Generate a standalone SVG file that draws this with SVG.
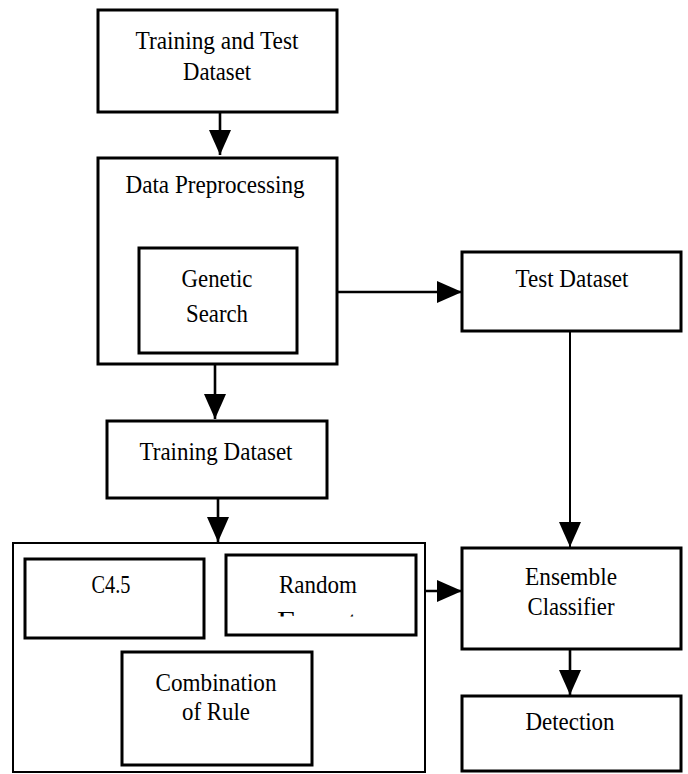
<svg xmlns="http://www.w3.org/2000/svg" width="688" height="774" viewBox="0 0 688 774">
<style>
.box{fill:none;stroke:#000;stroke-width:3}
.thin{fill:none;stroke:#000;stroke-width:2}
.lbl{font-family:"Liberation Serif","Times New Roman",serif;font-size:26px;fill:#000;text-anchor:middle}
.con{fill:none;stroke:#000;stroke-width:2.6}
</style>
<defs>
<marker id="ah" markerUnits="userSpaceOnUse" markerWidth="26" markerHeight="22" refX="25" refY="11" orient="auto">
<path d="M0,0 L25,11 L0,22 z" fill="#000"/>
</marker>
<clipPath id="forestClip"><rect x="260" y="611" width="120" height="5.5"/></clipPath>
</defs>
<rect width="688" height="774" fill="#fff"/>

<g id="connectors">
<line class="con" x1="220" y1="112" x2="220" y2="155" marker-end="url(#ah)"/>
<line class="con" x1="215" y1="364" x2="215" y2="419" marker-end="url(#ah)"/>
<line class="con" x1="218" y1="498" x2="218" y2="542" marker-end="url(#ah)"/>
<line class="con" x1="337" y1="292" x2="462" y2="292" marker-end="url(#ah)"/>
<line class="thin" x1="570" y1="331" x2="570" y2="547" marker-end="url(#ah)"/>
<line class="con" x1="425" y1="591" x2="462" y2="591" marker-end="url(#ah)"/>
<line class="con" x1="570" y1="649" x2="570" y2="695" marker-end="url(#ah)"/>
</g>

<g id="train-test">
<rect class="box" x="98" y="10" width="239" height="102"/>
<text class="lbl" x="217" y="49" textLength="163" lengthAdjust="spacingAndGlyphs">Training and Test</text>
<text class="lbl" x="217" y="80" textLength="68" lengthAdjust="spacingAndGlyphs">Dataset</text>
</g>

<g id="preprocessing">
<rect class="box" x="98" y="158" width="239" height="206"/>
<text class="lbl" x="215" y="193" textLength="179" lengthAdjust="spacingAndGlyphs">Data Preprocessing</text>
</g>

<g id="genetic">
<rect class="box" x="139" y="248" width="158" height="105"/>
<text class="lbl" x="217" y="287" textLength="71" lengthAdjust="spacingAndGlyphs">Genetic</text>
<text class="lbl" x="217" y="322" textLength="62" lengthAdjust="spacingAndGlyphs">Search</text>
</g>

<g id="test-dataset">
<rect class="box" x="462" y="252" width="219" height="79"/>
<text class="lbl" x="572" y="287" textLength="113" lengthAdjust="spacingAndGlyphs">Test Dataset</text>
</g>

<g id="training-dataset">
<rect class="box" x="107" y="421" width="220" height="77"/>
<text class="lbl" x="216" y="460" textLength="153" lengthAdjust="spacingAndGlyphs">Training Dataset</text>
</g>

<g id="classifiers">
<rect class="thin" x="13" y="543" width="412" height="229"/>
</g>

<g id="c45">
<rect class="box" x="25" y="559" width="179" height="79"/>
<text class="lbl" x="111" y="593" textLength="39" lengthAdjust="spacingAndGlyphs">C4.5</text>
</g>

<g id="random-forest">
<rect class="box" x="226" y="555" width="190" height="80"/>
<text class="lbl" x="318" y="593" textLength="78" lengthAdjust="spacingAndGlyphs">Random</text>
<text class="lbl" x="317" y="629" textLength="80" lengthAdjust="spacingAndGlyphs" clip-path="url(#forestClip)">Forest</text>
</g>

<g id="combination">
<rect class="box" x="122" y="652" width="190" height="113"/>
<text class="lbl" x="216" y="691" textLength="121" lengthAdjust="spacingAndGlyphs">Combination</text>
<text class="lbl" x="216" y="720" textLength="68" lengthAdjust="spacingAndGlyphs">of Rule</text>
</g>

<g id="ensemble">
<rect class="box" x="462" y="548" width="219" height="101"/>
<text class="lbl" x="571" y="585" textLength="92" lengthAdjust="spacingAndGlyphs">Ensemble</text>
<text class="lbl" x="571" y="615" textLength="87" lengthAdjust="spacingAndGlyphs">Classifier</text>
</g>

<g id="detection">
<rect class="box" x="462" y="696" width="219" height="75"/>
<text class="lbl" x="570" y="730" textLength="89" lengthAdjust="spacingAndGlyphs">Detection</text>
</g>
</svg>
